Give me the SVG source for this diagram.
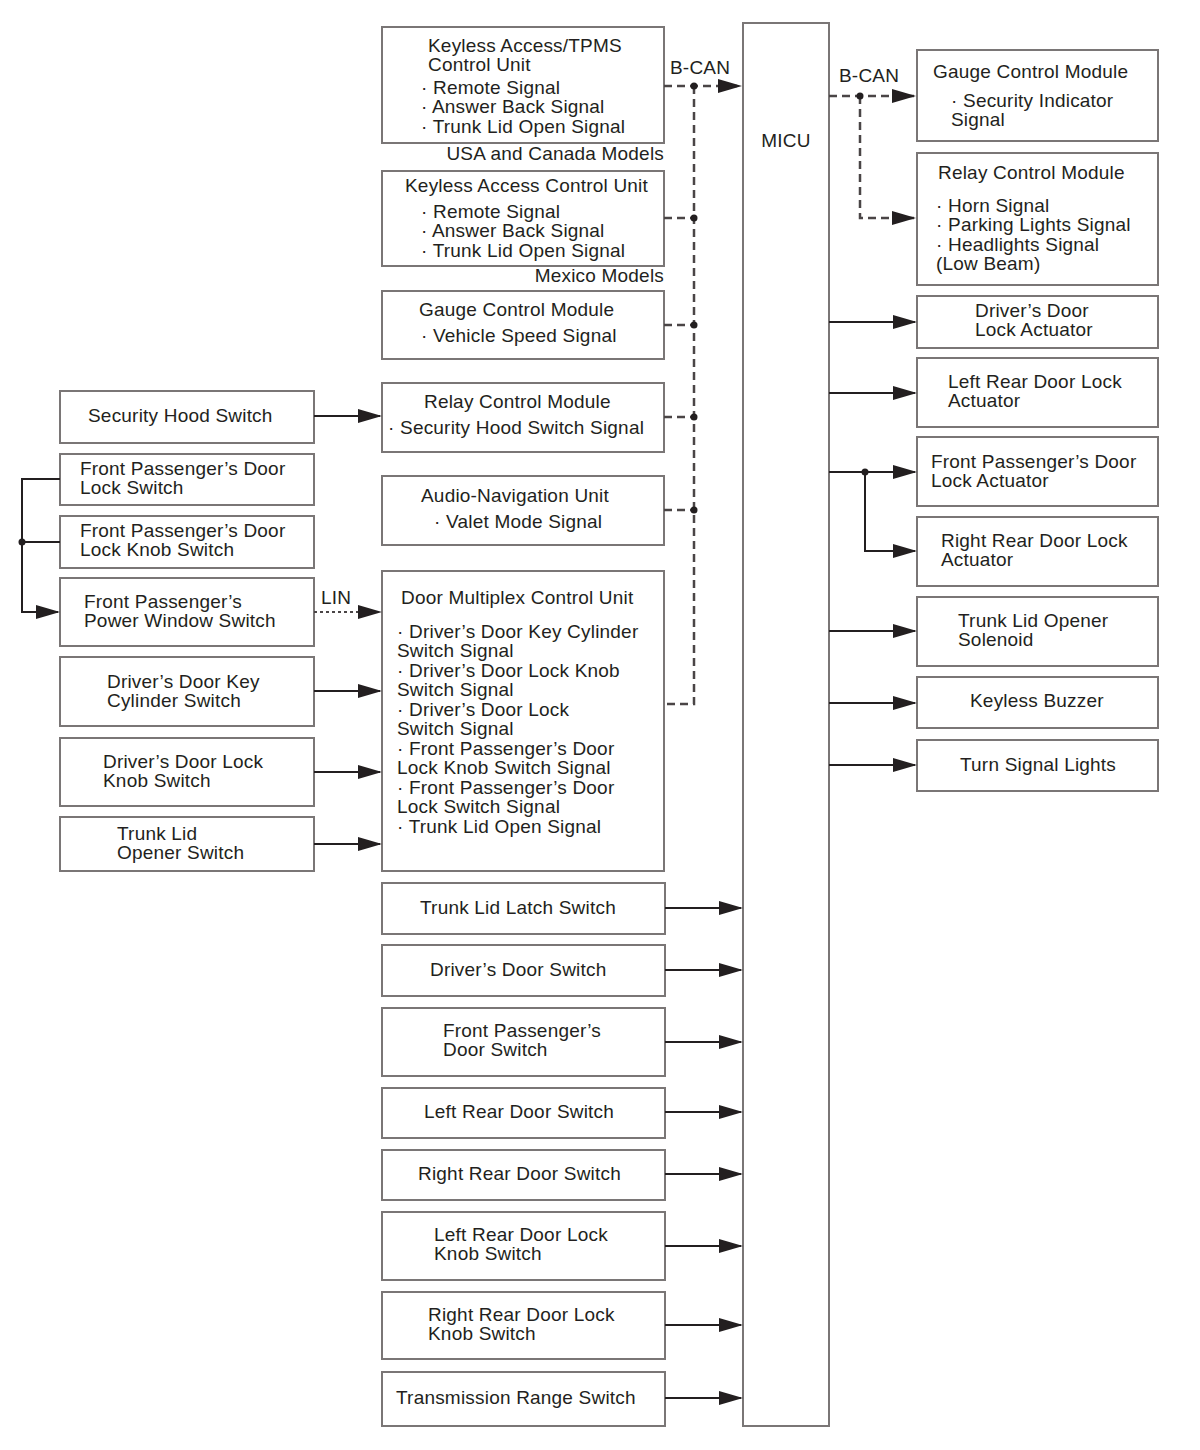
<svg xmlns="http://www.w3.org/2000/svg" width="1200" height="1450" viewBox="0 0 1200 1450">
<defs>
<marker id="ah" markerUnits="userSpaceOnUse" markerWidth="24" markerHeight="14" refX="22" refY="7" orient="auto"><path d="M0,0 L24,7 L0,14 z" fill="#231f20"/></marker>
<style>
.b{fill:#fff;stroke:#7a7676;stroke-width:2}
text{font-family:"Liberation Sans",Arial,sans-serif;font-size:19px;letter-spacing:0.2px;fill:#231f20}
.c{stroke:#231f20;stroke-width:2;fill:none}
.d{stroke:#4a4546;stroke-width:2.5;fill:none;stroke-dasharray:8,5}
.l{stroke:#4a4546;stroke-width:2;fill:none;stroke-dasharray:3,3}
.m{text-anchor:middle}
.e{text-anchor:end}
</style>
</defs>
<rect width="1200" height="1450" fill="#fff"/>

<g id="micu"><rect class="b" x="743" y="23" width="86" height="1403"/><text class="m" x="786" y="147">MICU</text></g>

<g id="keyless-tpms"><rect class="b" x="382" y="27" width="282" height="116"/>
<text x="428" y="52">Keyless Access/TPMS</text><text x="428" y="71">Control Unit</text>
<text x="421" y="94">· Remote Signal</text><text x="421" y="113">· Answer Back Signal</text><text x="421" y="133">· Trunk Lid Open Signal</text></g>
<text class="e" x="664" y="160">USA and Canada Models</text>
<g id="keyless"><rect class="b" x="382" y="171" width="282" height="95"/>
<text x="405" y="192">Keyless Access Control Unit</text>
<text x="421" y="218">· Remote Signal</text><text x="421" y="237">· Answer Back Signal</text><text x="421" y="257">· Trunk Lid Open Signal</text></g>
<text class="e" x="664" y="282">Mexico Models</text>
<g id="gauge-l"><rect class="b" x="382" y="291" width="282" height="68"/>
<text x="419" y="316">Gauge Control Module</text><text x="421" y="342">· Vehicle Speed Signal</text></g>
<g id="relay-l"><rect class="b" x="382" y="383" width="282" height="69"/>
<text x="424" y="408">Relay Control Module</text><text x="388" y="434">· Security Hood Switch Signal</text></g>
<g id="audio"><rect class="b" x="382" y="476" width="282" height="69"/>
<text x="421" y="502">Audio-Navigation Unit</text><text x="434" y="528">· Valet Mode Signal</text></g>
<g id="door-mux"><rect class="b" x="382" y="571" width="282" height="300"/>
<text x="401" y="604">Door Multiplex Control Unit</text>
<text x="397" y="638">· Driver’s Door Key Cylinder</text><text x="397" y="657">Switch Signal</text>
<text x="397" y="677">· Driver’s Door Lock Knob</text><text x="397" y="696">Switch Signal</text>
<text x="397" y="716">· Driver’s Door Lock</text><text x="397" y="735">Switch Signal</text>
<text x="397" y="755">· Front Passenger’s Door</text><text x="397" y="774">Lock Knob Switch Signal</text>
<text x="397" y="794">· Front Passenger’s Door</text><text x="397" y="813">Lock Switch Signal</text>
<text x="397" y="833">· Trunk Lid Open Signal</text></g>

<g id="trunk-latch"><rect class="b" x="382" y="883" width="283" height="51"/><text x="420" y="914">Trunk Lid Latch Switch</text></g>
<g id="drv-door"><rect class="b" x="382" y="945" width="283" height="51"/><text x="430" y="976">Driver’s Door Switch</text></g>
<g id="fp-door"><rect class="b" x="382" y="1008" width="283" height="68"/><text x="443" y="1037">Front Passenger’s</text><text x="443" y="1056">Door Switch</text></g>
<g id="lr-door"><rect class="b" x="382" y="1088" width="283" height="50"/><text x="424" y="1118">Left Rear Door Switch</text></g>
<g id="rr-door"><rect class="b" x="382" y="1150" width="283" height="50"/><text x="418" y="1180">Right Rear Door Switch</text></g>
<g id="lr-knob"><rect class="b" x="382" y="1212" width="283" height="68"/><text x="434" y="1241">Left Rear Door Lock</text><text x="434" y="1260">Knob Switch</text></g>
<g id="rr-knob"><rect class="b" x="382" y="1292" width="283" height="67"/><text x="428" y="1321">Right Rear Door Lock</text><text x="428" y="1340">Knob Switch</text></g>
<g id="trans"><rect class="b" x="382" y="1372" width="283" height="54"/><text x="396" y="1404">Transmission Range Switch</text></g>

<g id="sec-hood"><rect class="b" x="60" y="391" width="254" height="52"/><text x="88" y="422">Security Hood Switch</text></g>
<g id="fp-lock-sw"><rect class="b" x="60" y="454" width="254" height="51"/><text x="80" y="475">Front Passenger’s Door</text><text x="80" y="494">Lock Switch</text></g>
<g id="fp-knob-sw"><rect class="b" x="60" y="516" width="254" height="52"/><text x="80" y="537">Front Passenger’s Door</text><text x="80" y="556">Lock Knob Switch</text></g>
<g id="fp-pw-sw"><rect class="b" x="60" y="578" width="254" height="68"/><text x="84" y="608">Front Passenger’s</text><text x="84" y="627">Power Window Switch</text></g>
<g id="drv-key"><rect class="b" x="60" y="657" width="254" height="69"/><text x="107" y="688">Driver’s Door Key</text><text x="107" y="707">Cylinder Switch</text></g>
<g id="drv-knob"><rect class="b" x="60" y="738" width="254" height="68"/><text x="103" y="768">Driver’s Door Lock</text><text x="103" y="787">Knob Switch</text></g>
<g id="trunk-opener-sw"><rect class="b" x="60" y="817" width="254" height="54"/><text x="117" y="840">Trunk Lid</text><text x="117" y="859">Opener Switch</text></g>

<g id="gauge-r"><rect class="b" x="917" y="50" width="241" height="91"/><text x="933" y="78">Gauge Control Module</text><text x="951" y="107">· Security Indicator</text><text x="951" y="126">Signal</text></g>
<g id="relay-r"><rect class="b" x="917" y="153" width="241" height="132"/><text x="938" y="179">Relay Control Module</text>
<text x="936" y="212">· Horn Signal</text><text x="936" y="231">· Parking Lights Signal</text><text x="936" y="251">· Headlights Signal</text><text x="936" y="270">(Low Beam)</text></g>
<g id="drv-act"><rect class="b" x="917" y="296" width="241" height="52"/><text x="975" y="317">Driver’s Door</text><text x="975" y="336">Lock Actuator</text></g>
<g id="lr-act"><rect class="b" x="917" y="358" width="241" height="69"/><text x="948" y="388">Left Rear Door Lock</text><text x="948" y="407">Actuator</text></g>
<g id="fp-act"><rect class="b" x="917" y="437" width="241" height="69"/><text x="931" y="468">Front Passenger’s Door</text><text x="931" y="487">Lock Actuator</text></g>
<g id="rr-act"><rect class="b" x="917" y="517" width="241" height="69"/><text x="941" y="547">Right Rear Door Lock</text><text x="941" y="566">Actuator</text></g>
<g id="trunk-sol"><rect class="b" x="917" y="597" width="241" height="69"/><text x="958" y="627">Trunk Lid Opener</text><text x="958" y="646">Solenoid</text></g>
<g id="buzzer"><rect class="b" x="917" y="677" width="241" height="51"/><text x="970" y="707">Keyless Buzzer</text></g>
<g id="turn"><rect class="b" x="917" y="740" width="241" height="51"/><text x="960" y="771">Turn Signal Lights</text></g>

<g id="connectors">
<path class="d" d="M664,86 H740" marker-end="url(#ah)"/>
<path class="d" d="M694,86 V704 H664 M664,218 H694 M664,325 H694 M664,417 H694 M664,510 H694"/>
<g fill="#231f20"><circle cx="694" cy="86" r="3.5"/><circle cx="694" cy="218" r="3.5"/><circle cx="694" cy="325" r="3.5"/><circle cx="694" cy="417" r="3.5"/><circle cx="694" cy="510" r="3.5"/></g>
<text x="670" y="74">B-CAN</text>
<path class="d" d="M829,96 H914" marker-end="url(#ah)"/>
<path class="d" d="M860,96 V218 H914" marker-end="url(#ah)"/>
<circle cx="860" cy="96" r="3.5" fill="#231f20"/>
<text x="839" y="82">B-CAN</text>

<path class="c" d="M314,416 H380" marker-end="url(#ah)"/>
<path class="l" d="M314,612 H380" marker-end="url(#ah)"/>
<text x="321" y="604">LIN</text>
<path class="c" d="M314,691 H380" marker-end="url(#ah)"/>
<path class="c" d="M314,772 H380" marker-end="url(#ah)"/>
<path class="c" d="M314,844 H380" marker-end="url(#ah)"/>
<path class="c" d="M60,479 H22 V612 H58" marker-end="url(#ah)"/>
<path class="c" d="M22,542 H60"/>
<circle cx="22" cy="542" r="3.5" fill="#231f20"/>

<path class="c" d="M665,908 H741" marker-end="url(#ah)"/>
<path class="c" d="M665,970 H741" marker-end="url(#ah)"/>
<path class="c" d="M665,1042 H741" marker-end="url(#ah)"/>
<path class="c" d="M665,1112 H741" marker-end="url(#ah)"/>
<path class="c" d="M665,1174 H741" marker-end="url(#ah)"/>
<path class="c" d="M665,1246 H741" marker-end="url(#ah)"/>
<path class="c" d="M665,1325 H741" marker-end="url(#ah)"/>
<path class="c" d="M665,1398 H741" marker-end="url(#ah)"/>

<path class="c" d="M829,322 H915" marker-end="url(#ah)"/>
<path class="c" d="M829,393 H915" marker-end="url(#ah)"/>
<path class="c" d="M829,472 H915" marker-end="url(#ah)"/>
<path class="c" d="M865,472 V551 H915" marker-end="url(#ah)"/>
<circle cx="865" cy="472" r="3.5" fill="#231f20"/>
<path class="c" d="M829,631 H915" marker-end="url(#ah)"/>
<path class="c" d="M829,703 H915" marker-end="url(#ah)"/>
<path class="c" d="M829,765 H915" marker-end="url(#ah)"/>
</g>
</svg>
